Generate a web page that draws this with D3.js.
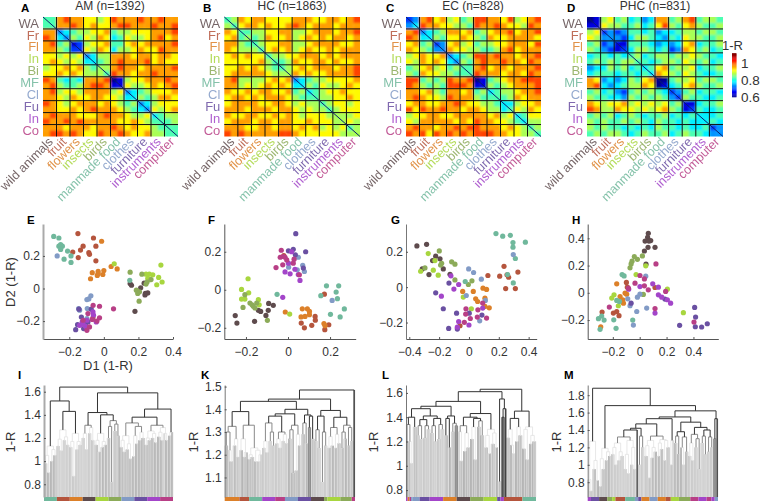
<!DOCTYPE html>
<html><head><meta charset="utf-8">
<script src="https://d3js.org/d3.v7.min.js"></script>
<style>html,body{margin:0;background:#fff}svg{display:block}text{font-family:"Liberation Sans",Arial,sans-serif;fill:#333}</style>
</head><body><div id="c"></div>
<script>
const shortLabels=["WA","Fr","Fl","In","Bi","MF","Cl","Fu","In","Co"];
const longLabels=["wild animals","fruit","flowers","insects","birds","manmade food","clothes","furniture","instruments","computer"];
const catColors=["#5e4b4d","#b5553d","#dc8029","#a8d63f","#8cab59","#70b89c","#829bc6","#6a50a2","#a345c9","#b83f86"];
const titles=["AM (n=1392)","HC (n=1863)","EC (n=828)","PHC (n=831)"];
const colorbarTicks=[1,0.8,0.6];
// upper triangle of each matrix, one row per half-category, digit d means 1-R = .6+.045*d
const matA=["55 89 88 77 67 98 88 98 89 88","5 88 98 78 77 89 98 88 98 89","34 56 67 78 56 67 77 88 89","3 65 76 87 45 76 67 89 78","12 67 78 55 78 78 88 89","2 76 87 46 67 87 79 88","34 66 88 87 88 78 87","4 56 89 88 89 78 77","66 89 88 78 88 89","5 98 87 88 98 88","01 67 78 88 98","1 76 67 87 89","34 56 77 78","4 65 68 87","34 67 77","3 76 78","45 66","5 56","55","5"];
const matB=["56 87 88 77 77 88 87 78 87 89","5 78 87 87 78 98 78 88 78 88","55 66 77 88 66 78 88 78 89","6 56 87 78 67 87 87 88 78","56 77 88 66 78 88 87 78","5 78 78 67 87 78 78 88","56 67 78 88 78 78 88","5 56 87 78 87 87 78","56 78 78 88 78 89","6 87 87 78 88 89","34 56 67 77 78","4 65 76 67 87","45 67 78 77","5 66 77 87","56 77 67","5 67 77","66 67","6 76","56","6"];
const matC=["23 89 78 67 56 99 88 79 67 89","4 98 87 76 65 98 89 87 76 98","34 56 88 78 56 78 89 78 89","4 65 77 87 65 87 78 88 87","23 78 67 56 67 78 88 79","3 87 76 65 56 89 78 88","34 56 99 89 88 78 89","3 65 89 88 98 87 98","55 89 78 87 88 89","5 98 88 78 87 98","01 56 78 89 99","1 65 67 88 89","45 66 78 89","5 56 87 88","44 67 78","5 76 87","45 77","4 66","56","5"];
const matD=["01 67 56 45 34 88 56 89 56 65","1 76 65 56 45 79 65 78 65 56","23 23 55 45 34 45 66 56 65","3 32 46 65 43 54 76 65 56","11 55 54 34 34 78 45 56","2 46 65 45 23 87 56 45","56 45 66 56 67 65 54","5 54 56 65 76 56 45","45 78 56 67 45 56","4 87 65 76 54 45","00 56 67 56 65","1 45 78 65 56","23 56 45 54","2 65 54 45","11 45 56","2 54 45","44 45","4 54","23","3"];
// scatter points per category, same order as longLabels
const scatE=[[[.152,.03],[.16,.02],[.233,.033],[.213,.004],[.254,-.027],[.238,-.04],[.18,-.14],[.24,-.03]],
[[-.15,.337],[-.06,.31],[-.12,.26],[-.135,.236],[-.18,.224],[-.148,.19],[-.046,.26],[-.087,.22],[-.046,.17],[-.083,.21],[-.063,-.18]],
[[-.013,.29],[-.067,.097],[-.033,.105],[0,.11],[-.038,.08],[-.006,.086],[.042,.135],[.077,.12],[-.077,.06],[-.033,.09]],
[[.06,.152],[.33,.144],[.317,.068],[.337,.04],[.306,.023],[.283,.084],[.263,.088],[.244,.088],[.254,.062],[.267,.055]],
[[.152,.1],[.22,.088],[.25,.04],[.188,-.01],[.206,-.02],[.204,-.078],[.244,.027],[.273,.055],[.196,-.03]],
[[-.29,.32],[-.26,.31],[-.25,.27],[-.26,.26],[-.24,.26],[-.25,.24],[-.21,.23],[-.19,.2],[-.23,.18],[-.19,.16],[.15,.05]],
[[-.27,.2],[-.075,-.045],[-.087,-.064],[-.098,-.068],[-.146,-.123],[-.14,-.133],[-.096,-.123],[-.098,-.185]],
[[-.163,-.253],[-.13,-.175],[-.152,-.222],[-.106,-.216],[-.092,-.205],[-.117,-.246],[-.073,-.127],[-.144,-.127]],
[[-.063,-.144],[-.098,-.195],[-.125,-.205],[-.14,-.226],[-.106,-.232],[-.06,-.164],[-.044,-.205],[-.12,-.22]],
[[-.062,-.103],[-.025,-.109],[.056,-.125],[-.092,-.154],[-.025,-.18],[-.083,-.236],[-.04,-.2],[-.12,-.195],[-.098,-.257],[-.067,-.19]]];
const scatF=[[[-.251,-.136],[-.243,-.175],[-.159,-.166],[-.105,-.135],[-.094,-.108],[-.092,-.072],[-.07,-.082],[-.141,-.108],[-.13,-.114]],
[[.173,-.023],[.129,-.14],[.13,-.16],[.113,-.187],[.078,-.2],[.063,-.175],[.175,-.21],[.194,-.184],[-.02,.18]],
[[-.013,-.117],[.068,-.1],[.092,-.1],[.102,-.114],[.081,-.14],[.062,-.143],[.171,-.178],[.176,-.189],[.102,-.131]],
[[-.19,.058],[-.221,.002],[-.187,-.016],[-.221,-.049],[-.205,-.049],[.008,-.128],[-.141,-.052],[-.137,-.079]],
[[-.205,-.026],[-.214,-.093],[-.181,-.07],[-.165,-.087],[-.098,-.161],[-.149,-.07],[-.157,-.096],[-.171,-.079]],
[[.183,.021],[.241,.021],[.156,-.031],[.229,-.012],[.235,-.047],[.268,-.101],[.202,-.129],[.248,-.143],[-.052,-.024]],
[[.049,.171],[.07,.129],[.003,.119],[.078,.096],[.044,.105],[.21,-.056]],
[[.037,.295],[.025,.213],[.084,.2],[.002,.205],[.035,.184],[.073,.114]],
[[.057,.049],[-.025,-.04],[-.014,.094],[.01,.084],[.033,.108],[.049,.08],[.002,.14],[.017,.2]],
[[-.057,.117],[-.032,.208],[-.037,.171],[-.022,.175],[-.025,.131],[.025,.14],[.029,.161],[-.006,.157],[.054,.079],[-.014,.171]]];
const scatG=[[[-.349,.233],[-.284,.242],[-.223,.175],[-.194,.16],[-.244,.15],[-.313,.103],[-.268,.071],[-.172,.103],[-.127,.073]],
[[.235,.118],[.127,.066],[.206,.062],[.255,.07],[.266,.056],[.328,.085],[.246,-.008],[.311,-.008],[-.06,-.218]],
[[.094,-.006],[.118,-.013],[.029,-.024],[.107,-.062],[.045,-.066],[.058,-.081],[.136,-.117],[-.042,-.024],[.107,-.109]],
[[-.273,.19],[-.324,.09],[-.239,.096],[-.206,.068],[-.228,.15],[-.038,-.056],[.016,-.122]],
[[-.199,.205],[-.295,.109],[-.183,.135],[-.116,.143],[-.094,.13],[-.094,.041],[-.004,.015],[.02,.036],[-.19,.125]],
[[.181,.303],[.226,.288],[.277,.293],[.295,.252],[.378,.254],[.295,.226],[.311,.162],[.259,.071],[.297,.024],[-.025,.032]],
[[.297,.184],[-.002,.103],[.031,.083],[.083,.045],[-.018,-.047],[.11,-.075],[.072,-.19]],
[[-.223,-.032],[-.172,-.122],[-.083,-.147],[-.136,-.233],[-.078,-.237],[.002,-.147],[.087,-.158],[-.134,.023]],
[[-.121,.064],[-.185,-.051],[-.101,-.011],[-.069,.015],[-.069,-.194],[0,-.214],[.092,-.118],[-.078,-.226]],
[[-.02,-.122],[-.022,-.152],[.009,-.177],[.06,-.128],[.056,-.169],[-.031,-.199],[.118,-.175],[.092,-.09]]];
const scatH=[[[.064,.437],[.059,.407],[.04,.38],[.069,.38],[.082,.383],[.062,.334],[.035,.307],[.114,.334],[.047,.21]],
[[-.099,.076],[.114,.039],[-.28,-.141],[-.196,-.149],[-.171,-.137],[-.154,-.168],[-.092,.041]],
[[-.171,.066],[-.109,-.002],[-.146,-.027],[-.126,-.051],[-.121,-.076],[-.29,-.249],[-.097,-.01]],
[[.045,.198],[-.027,.134],[.206,.027],[-.191,-.015],[-.208,-.039],[-.159,-.095],[.325,-.146]],
[[-.04,.266],[-.057,.232],[-.064,.212],[-.072,.183],[-.017,.246],[.02,.271],[.027,-.012]],
[[-.131,.134],[-.116,.124],[-.171,-.056],[-.151,-.063],[-.307,-.19],[-.283,-.171],[-.265,-.2],[-.193,-.198],[-.176,-.261],[-.052,-.2],[-.295,-.268]],
[[.045,.122],[-.017,-.032],[.002,-.01],[-.089,-.044],[-.072,-.095],[-.022,-.137],[.052,-.112],[-.047,-.237]],
[[.188,-.046],[-.064,-.076],[.409,-.107],[.416,-.178],[.297,-.239],[.414,-.249],[.461,-.251],[.503,-.227]],
[[.002,.046],[.097,.066],[.139,.041],[.139,-.015],[.164,-.032],[.206,-.051],[.23,-.076],[.114,-.149],[-.082,.027]],
[[.121,.212],[.002,.127],[.035,.102],[-.035,.071],[.035,.051],[.064,.022],[.193,.01],[-.226,-.105],[.114,-.115],[.404,-.215],[-.084,.034]]];
const ticksE={x:[-.2,0,.2,.4],y:[-.2,0,.2]},ticksF={x:[-.2,0,.2],y:[-.2,0,.2]},ticksG={x:[-.4,-.2,0,.2,.4],y:[-.2,0,.2]},ticksH={x:[-.2,0,.2,.4],y:[-.2,0,.2,.4]};
const domE=[[-.352,.4],[-.31,.396]],domF=[[-.303,.322],[-.259,.346]],domG=[[-.422,.454],[-.293,.357]],domH=[[-.387,.585],[-.339,.505]];
// dendrograms: [mergeHeight, left, right], 0 = a leaf
const treeI=[1.64,[1.52,[1.13,[1.05,[.98,0,0],[.9,0,0]],[1.1,[1.0,0,0],[1.05,0,0]]],[1.43,[1.27,[1.19,[1.13,0,0],[1.09,0,0]],[1.21,[1.18,0,0],[1.14,0,0]]],[1.24,[1.17,[1.12,0,0],[.87,0,0]],[1.17,[1.1,0,0],[1.14,0,0]]]]],[1.59,[1.42,[1.31,[1.24,[1.2,0,0],[1.1,0,0]],[1.29,[1.24,0,0],[1.18,0,0]]],[1.4,[1.24,[1.18,[1.14,0,0],[1.08,0,0]],[1.17,[1.12,0,0],[1.14,0,0]]],[1.35,[1.3,[1.2,0,0],[.82,0,0]],[1.32,[1.26,0,0],[1.22,0,0]]]]],[1.45,[1.38,[1.33,[1.22,[1.18,[1.12,0,0],[1.08,0,0]],[1.15,[1.1,0,0],[1.02,0,0]]],[1.3,[1.22,[1.04,0,0],[1.15,0,0]],[1.25,[1.18,0,0],[1.2,0,0]]]],[1.31,[1.26,[1.2,[1.14,0,0],[1.18,0,0]],[1.24,[1.2,0,0],[1.16,0,0]]],[1.29,[1.25,[1.21,0,0],[1.18,0,0]],[1.24,0,[1.18,0,0]]]]],[1.25,[1.22,0,0],0]]]];
const treeK=[1.485,[1.445,[1.435,[1.39,[1.325,[1.3,[1.24,0,0],[1.22,0,[1.17,0,0]]],[1.27,[1.24,0,0],[1.19,0,0]]],[1.33,[1.27,[1.22,0,0],[1.21,[1.19,0,0],0]],[1.23,[1.2,[1.18,0,0],[1.19,0,0]],[1.22,[1.17,0,0],[1.2,[1.17,0,0],0]]]]],[1.4,[1.38,[1.37,[1.34,[1.26,[1.23,0,0],[1.21,0,0]],[1.3,[1.26,0,0],[1.24,0,0]]],[1.3,[1.27,[1.25,0,0],[1.23,0,0]],[1.29,[1.26,0,0],[1.25,0,0]]]],[1.33,[1.31,[1.27,0,0],[1.12,0,0]],[1.29,[1.13,0,0],[1.24,0,0]]]],[1.375,[1.34,[1.29,0,0],[1.25,0,0]],[1.37,[1.32,0,0],[1.27,0,0]]]]],[1.395,[1.37,[1.31,[1.26,0,0],[1.23,0,0]],[1.3,[1.08,0,0],[1.24,0,0]]],[1.365,[1.32,[1.28,[1.23,0,0],[1.24,0,0]],[1.29,[1.23,0,0],[1.25,0,0]]],[1.33,[1.3,[1.23,0,0],[1.27,0,0]],[1.32,[1.24,0,0],[1.26,0,0]]]]]],0];
const treeL=[1.63,[1.61,[1.53,[1.49,[1.47,[1.4,[1.34,0,[1.2,0,[1.02,0,0]]],[1.32,0,0]],[1.41,[1.38,[1.33,[1.25,0,0],[1.22,0,0]],[1.33,[1.23,0,0],[1.3,0,0]]],[1.39,[1.33,[1.27,0,0],[1.2,0,0]],[1.34,[1.22,0,0],[1.3,0,0]]]]],[1.41,[1.39,[1.25,0,0],[1.15,0,0]],[1.35,[1.28,0,0],[1.33,0,0]]]],[1.43,[1.4,[1.33,[1.28,0,[1.04,0,0]],[1.27,[1.12,0,0],[1.15,0,0]]],[1.39,[1.32,[1.22,0,0],[1.05,0,0]],[1.37,[1.32,0,0],[1.25,0,0]]]],[1.3,[1.25,[1.15,0,0],[1.1,0,0]],[1.27,[1.18,0,0],[1.15,0,0]]]]],[1.55,[.87,0,0],[1.47,[1.4,0,0],0]]],[1.45,[1.39,[1.3,[1.23,0,0],[1.17,0,[1.1,0,0]]],[1.32,[1.2,0,0],[1.25,0,0]]],[1.32,[1.3,[1.14,0,0],[1.05,0,0]],[1.25,[1.18,0,0],[1.2,0,0]]]]];
const treeM=[1.88,[1.27,[.83,0,[.7,0,0]],[1.05,[.95,0,0],[.82,0,0]]],[1.68,[1.19,[1.07,[.75,0,0],[.95,0,0]],[1.15,[1.05,0,0],[1.1,0,0]]],[1.62,[1.55,[1.53,[1.47,[1.42,[1.4,[1.32,[1.25,[1.2,[1.12,0,0],[1.0,0,0]],[1.15,[1.05,0,0],[1.1,0,0]]],[1.28,[1.12,[.95,0,0],[.9,0,0]],[1.2,[1.0,0,0],[.95,0,0]]]],0],[1.33,[1.0,0,0],[1.2,0,0]]],[1.33,[1.28,[1.22,[1.1,0,0],[.85,0,0]],[1.2,[1.08,0,0],[1.15,0,0]]],[1.29,[1.25,[1.1,0,0],[1.18,0,0]],[1.28,[1.05,0,0],[1.2,0,0]]]]],[1.28,[1.0,0,0],0]],[1.49,[1.38,[1.33,[1.25,0,0],[1.12,0,0]],[1.32,[1.2,0,[1.0,0,0]],[1.15,0,0]]],[1.43,[1.35,[1.25,[1.1,0,0],[1.05,0,0]],[1.3,[1.2,0,0],[.95,0,0]]],[1.4,[1.33,[1.25,0,0],[1.12,0,0]],[1.32,[1.15,0,0],[1.2,0,0]]]]]],[1.53,[1.3,0,0],0]]]];
// leaf colour strip: [category index, leaves]
const stripI=[[5,8],[1,8],[2,8],[0,8],[3,8],[4,8],[6,8],[7,8],[8,8],[9,8]];
const stripK=[[2,9],[1,6],[5,8],[8,8],[9,6],[6,8],[7,8],[0,8],[4,2],[3,8],[4,7],[9,2]];
const stripL=[[8,1],[2,1],[9,1],[6,1],[6,4],[7,6],[8,8],[2,8],[0,8],[4,8],[3,8],[7,2],[8,2],[1,11],[5,8]];
const stripM=[[8,2],[7,5],[0,5],[4,3],[3,2],[1,6],[5,6],[6,2],[7,2],[2,5],[6,5],[2,5],[1,3],[3,5],[4,7],[9,5],[8,5],[9,3],[8,2],[6,2]];
const yTicksI=[.8,1,1.2,1.4,1.6],yTicksK=[1.1,1.2,1.3,1.4,1.5],yTicksL=[.8,1,1.2,1.4,1.6],yTicksM=[.8,1,1.2,1.4,1.6,1.8];
const domI=[.69,1.658],domK=[1.014,1.507],domL=[.743,1.665],domM=[.63,1.917];
const darkI=[1.38,1.3],darkK=[1.36,1.3],darkL=[1.38,1.33],darkM=[1.36,1.3];

const svg=d3.select("#c").append("svg").attr("width",760).attr("height",502);
const defs=svg.append("defs");
defs.append("filter").attr("id","soft").attr("x","-2%").attr("y","-2%").attr("width","104%").attr("height","104%").append("feGaussianBlur").attr("stdDeviation",.9);
const jet=d3.scaleLinear().domain([0,.125,.375,.5,.625,.75,.875,1]).range(["#00008f","#0000ff","#00ffff","#7fff7f","#ffff00","#ff7f00","#ff0000","#7f0000"]);
const valT=d3.scaleLinear().domain([.6,1.1]).range([0,1]).clamp(true);
const col=v=>jet(valT(v));
const idx=d3.range(10),idx2=d3.range(20);
const digit=d3.scaleLinear().domain([0,9]).range([.6,1.005]);
function unpack(rows){
  const m=idx2.map(()=>idx2.map(()=>0));
  rows.forEach((s,i)=>Array.from(s.replace(/ /g,"")).forEach((c,k)=>{const v=digit(+c);m[i][i+k]=v;m[i+k][i]=v;}));
  return m;
}
let clipN=0;
function heat(rows,x0,x1,title,tx,letter,lx){
  const y0=17,y1=136.5;
  const mat=unpack(rows);
  const bx=d3.scaleBand().domain(idx).range([x0,x1]),by=d3.scaleBand().domain(idx).range([y0,y1]);
  const fx=d3.scaleBand().domain(idx2).range([x0,x1]),fy=d3.scaleBand().domain(idx2).range([y0,y1]);
  const id="cl"+(clipN++);
  defs.append("clipPath").attr("id",id).append("rect").attr("x",x0).attr("y",y0).attr("width",x1-x0).attr("height",y1-y0);
  const g=svg.append("g");
  const cells=g.append("g").attr("clip-path",`url(#${id})`).append("g").attr("filter","url(#soft)");
  mat.forEach((r,i)=>r.forEach((v,j)=>cells.append("rect").attr("x",fx(j)-(j?0:3)).attr("y",fy(i)-(i?0:3)).attr("width",fx.bandwidth()+.3+(j?0:3)+(j==19?3:0)).attr("height",fy.bandwidth()+.3+(i?0:3)+(i==19?3:0)).attr("fill",col(v))));
  idx.slice(1).forEach(i=>{
    g.append("line").attr("x1",bx(i)).attr("x2",bx(i)).attr("y1",y0).attr("y2",y1).attr("stroke","#111").attr("stroke-width",1);
    g.append("line").attr("y1",by(i)).attr("y2",by(i)).attr("x1",x0).attr("x2",x1).attr("stroke","#111").attr("stroke-width",1);
  });
  g.append("line").attr("x1",x0).attr("y1",y0).attr("x2",x1).attr("y2",y1).attr("stroke","#0a1f6e").attr("stroke-width",1);
  shortLabels.forEach((s,i)=>g.append("text").attr("x",x0-4).attr("y",by(i)+by.bandwidth()/2+4.6).attr("text-anchor","end").attr("font-size",13).style("fill",catColors[i]).attr("opacity",.85).text(s));
  longLabels.forEach((s,i)=>g.append("text").attr("transform",`translate(${bx(i)+bx.bandwidth()/2+4},${y1+6}) rotate(-45)`).attr("text-anchor","end").attr("font-size",12.6).style("fill",catColors[i]).attr("opacity",.85).text(s));
  g.append("text").attr("x",tx).attr("y",10).attr("text-anchor","middle").attr("font-size",12).text(title);
  panelLetter(letter,lx,12);
}
function panelLetter(s,x,y){svg.append("text").attr("x",x).attr("y",y).attr("font-size",11.5).attr("font-weight","bold").style("fill","#000").text(s);}
function styleAxis(a,color,w){a.select(".domain").attr("stroke",color).attr("stroke-width",w);a.selectAll(".tick line").attr("stroke","#555");a.selectAll(".tick text").attr("font-size",12).style("fill","#333");a.attr("font-family",null);}
function scatter(data,dom,ticks,left,right,letter,lx,yColor,yW){
  const top=224,bot=339;
  const x=d3.scaleLinear().domain(dom[0]).range([left,right]),y=d3.scaleLinear().domain(dom[1]).range([bot,top]);
  const ax=svg.append("g").attr("transform",`translate(0,${bot})`).call(d3.axisBottom(x).tickValues(ticks.x).tickSizeInner(-2).tickSizeOuter(0).tickPadding(8).tickFormat(d=>d===0?"0":d3.format(".1f")(d)));
  styleAxis(ax,"#555",1);
  const ay=svg.append("g").attr("transform",`translate(${left},0)`).call(d3.axisLeft(y).tickValues(ticks.y).tickSizeInner(-2).tickSizeOuter(0).tickPadding(3).tickFormat(d=>d===0?"0":d3.format(".1f")(d)));
  styleAxis(ay,yColor,yW);
  data.forEach((pts,c)=>svg.append("g").selectAll("circle").data(pts).join("circle").attr("cx",d=>x(d[0])).attr("cy",d=>y(d[1])).attr("r",2.6).attr("fill",catColors[c]));
  panelLetter(letter,lx,224);
}
function dendro(tree,dom,ticks,left,right,letter,lx,ylx,strip,thr,yColor,yW){
  const top=385,bot=497;
  const y=d3.scaleLinear().domain(dom).range([bot,top]);
  const root=d3.hierarchy(tree,d=>Array.isArray(d)?d.slice(1):null);
  d3.cluster().size([right-left,1]).separation(()=>1)(root);
  const h=n=>n.children?y(n.data[0]):bot;
  const X=n=>left+n.x;
  const g=svg.append("g");
  const shade=["#b6b6b6","#cbcbcb","#949494"];
  const leafW=(right-left)/root.leaves().length;
  root.leaves().forEach(n=>g.append("line").attr("x1",X(n)).attr("x2",X(n)).attr("y1",y(n.parent.data[0])).attr("y2",bot).attr("stroke",shade[(n.depth+(n.parent.children[0]===n?0:1))%3]).attr("stroke-width",leafW+.2));
  const color=v=>v>=thr[0]?"#333":v>=thr[1]?"#8a8a8a":"#e2e2e2";
  root.descendants().filter(n=>n.children).sort((a,b)=>a.data[0]-b.data[0]).forEach(n=>{
    const [a,b]=n.children;
    const low=n.data[0]<thr[1];
    const p=d3.path();p.moveTo(X(a),h(a));p.lineTo(X(a),h(n));p.lineTo(X(b),h(n));p.lineTo(X(b),h(b));
    g.append("path").attr("d",p.toString()).attr("fill","none").attr("stroke",color(n.data[0])).attr("stroke-width",low?.8:1);
  });
  const total=d3.sum(strip,d=>d[1]),sx=d3.scaleLinear().domain([0,total]).range([left,right]);
  let c=0;strip.forEach(([k,n])=>{svg.append("rect").attr("x",sx(c)).attr("y",bot).attr("width",sx(c+n)-sx(c)).attr("height",4).attr("fill",catColors[k]);c+=n;});
  const ay=svg.append("g").attr("transform",`translate(${left},0)`).call(d3.axisLeft(y).tickValues(ticks).tickSizeInner(-2).tickSizeOuter(0).tickPadding(3).tickFormat(d=>d===1?"1":d3.format(".1f")(d)));
  styleAxis(ay,yColor,yW);
  svg.append("text").attr("transform",`translate(${ylx},442) rotate(-90)`).attr("text-anchor","middle").attr("font-size",13).text("1-R");
  panelLetter(letter,lx,379);
}
heat(matA,43,178,titles[0],110,"A",21);
heat(matB,224.3,360,titles[1],292,"B",203);
heat(matC,406,541,titles[2],473,"C",386);
heat(matD,587,723,titles[3],655,"D",567);
// colorbar
const cbY=d3.scaleLinear().domain([.6,1.1]).range([97,54]);
const cb=svg.append("g");
d3.range(.6,1.1,.01).forEach(v=>cb.append("rect").attr("x",732).attr("width",4.5).attr("y",cbY(v+.01)).attr("height",cbY(v)-cbY(v+.01)+.3).attr("fill",col(v+.005)));
colorbarTicks.forEach(t=>cb.append("text").attr("x",741).attr("y",cbY(t)+5).attr("font-size",13.5).text(t===1?"1":t));
cb.append("text").attr("x",722).attr("y",50).attr("font-size",13).text("1-R");

scatter(scatE,domE,ticksE,43,173,"E",27,"#aaa",2);
scatter(scatF,domF,ticksF,224.3,355.7,"F",208,"#555",1);
scatter(scatG,domG,ticksG,406,536.7,"G",391,"#777",1);
scatter(scatH,domH,ticksH,587.7,718.3,"H",572,"#555",1);
svg.append("text").attr("x",108).attr("y",370).attr("text-anchor","middle").attr("font-size",13).text("D1 (1-R)");
svg.append("text").attr("transform","translate(15,282) rotate(-90)").attr("text-anchor","middle").attr("font-size",13).text("D2 (1-R)");

dendro(treeI,domI,yTicksI,44,173,"I",18,15,stripI,darkI,"#aaa",2);
dendro(treeK,domK,yTicksK,224.7,355,"K",201,198,stripK,darkK,"#777",1);
dendro(treeL,domL,yTicksL,406,536,"L",382,378,stripL,darkL,"#777",1);
dendro(treeM,domM,yTicksM,587.7,718,"M",564,561,stripM,darkM,"#777",1);
</script></body></html>
